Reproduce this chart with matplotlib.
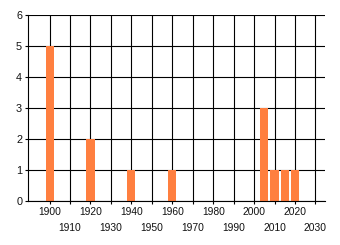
import matplotlib
matplotlib.use("Agg")
import matplotlib.pyplot as plt
from matplotlib.ticker import FixedLocator

# Values.
years = [1900, 1920, 1940, 1960, 2005, 2010, 2015, 2020]
counts = [5, 2, 1, 1, 3, 1, 1, 1]
major_years = [1900, 1920, 1940, 1960, 1980, 2000, 2020]
minor_years = [1910, 1930, 1950, 1970, 1990, 2010, 2030]
y_ticks = [0, 1, 2, 3, 4, 5, 6]

plt.rcParams["font.family"] = ["Liberation Sans", "DejaVu Sans"]

fig = plt.figure(figsize=(3.4, 2.45), dpi=100)
ax = fig.add_axes([0.0833, 0.178, 0.874, 0.761])

ax.bar(years, counts, width=4.0, color="#ff7f3f", zorder=2)

ax.set_xlim(1889.6, 2034.9)
ax.set_ylim(0, 6)
ax.set_axisbelow(True)

# even decades on first row, odd decades on second row
ax.xaxis.set_major_locator(FixedLocator(major_years))
ax.xaxis.set_minor_locator(FixedLocator(minor_years))
ax.set_xticklabels([str(y) for y in major_years])
ax.set_xticklabels([str(y) for y in minor_years], minor=True)
ax.set_yticks(y_ticks)

ax.tick_params(axis="x", which="major", length=2.2, width=0.8, pad=1.7, labelsize=7.4, labelcolor="#111111")
ax.tick_params(axis="x", which="minor", length=2.2, width=0.8, pad=13.2, labelsize=7.4, labelcolor="#111111")
ax.tick_params(axis="y", length=2.2, width=0.8, pad=2.2, labelsize=7.8, labelcolor="#111111")

ax.grid(True, which="both", color="black", linewidth=0.8)

for s in ["top", "right"]:
    ax.spines[s].set_visible(False)
for s in ["left", "bottom"]:
    ax.spines[s].set_linewidth(0.8)

fig.savefig("out.png", dpi=100)
